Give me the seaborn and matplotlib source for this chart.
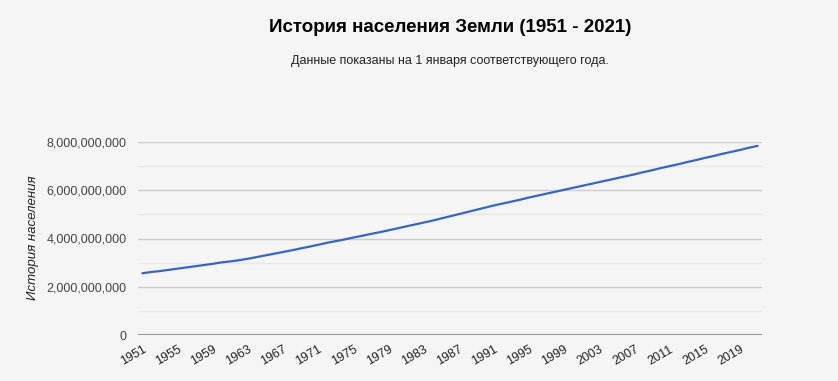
import numpy as np
import pandas as pd
import matplotlib
matplotlib.use("Agg")
import matplotlib.pyplot as plt
import matplotlib.ticker as mticker
import seaborn as sns

# Years shown on the chart
years = list(range(1951, 2022))

# World population on 1 January, billions
population_bn = [
    2.56, 2.61, 2.65, 2.70, 2.75, 2.80, 2.85, 2.90, 2.95, 3.01,
    3.05, 3.10, 3.16, 3.23, 3.30, 3.37, 3.44, 3.51, 3.59, 3.66,
    3.74, 3.82, 3.89, 3.96, 4.04, 4.11, 4.19, 4.26, 4.34, 4.42,
    4.50, 4.58, 4.66, 4.74, 4.83, 4.92, 5.01, 5.10, 5.19, 5.28,
    5.37, 5.45, 5.53, 5.61, 5.70, 5.78, 5.86, 5.94, 6.02, 6.10,
    6.18, 6.26, 6.34, 6.42, 6.50, 6.58, 6.66, 6.75, 6.83, 6.92,
    7.00, 7.08, 7.17, 7.25, 7.34, 7.42, 7.51, 7.59, 7.67, 7.76,
    7.84,
]

x_ticks = list(range(1951, 2022, 4))
y_major = [0, 2e9, 4e9, 6e9, 8e9]
y_minor = [1e9, 3e9, 5e9, 7e9]

title = "История населения Земли (1951 - 2021)"
subtitle = "Данные показаны на 1 января соответствующего года."
y_label = "История населения"

df = pd.DataFrame({"year": years, "population": np.array(population_bn) * 1e9})

sns.set_style("white")
plt.rcParams["font.family"] = ["Liberation Sans", "DejaVu Sans"]

bg = "#f5f5f5"
fig = plt.figure(figsize=(8.38, 3.81), dpi=100, facecolor=bg)
ax = fig.add_axes([138 / 838, 1 - 335 / 381, (762 - 138) / 838, (335 - 142) / 381])
ax.set_facecolor(bg)

sns.lineplot(data=df, x="year", y="population", ax=ax, color="#3366cc", linewidth=1.6)

ax.set_xlim(1950.5, 2021.5)
ax.set_ylim(0, 8e9)

ax.set_yticks(y_major)
ax.set_yticks(y_minor, minor=True)
ax.yaxis.set_major_formatter(mticker.FuncFormatter(lambda v, p: f"{int(v):,}"))
ax.grid(axis="y", which="major", color="#cccccc", linewidth=1)
ax.grid(axis="y", which="minor", color="#e8e8e8", linewidth=1)
ax.axhline(0, color="#999999", linewidth=1.5, zorder=3)

ax.set_xticks(x_ticks)
ax.set_xticklabels([str(t) for t in x_ticks], rotation=30, ha="right",
                   rotation_mode="anchor", fontsize=9, color="#222222")
ax.tick_params(axis="y", which="both", length=0, pad=8, labelsize=9, labelcolor="#444444")
ax.tick_params(axis="x", length=0, pad=6)

for s in ax.spines.values():
    s.set_visible(False)

ax.set_xlabel("")
ax.set_ylabel("")
fig.text(33 / 838, 1 - 238 / 381, y_label, rotation=90, style="italic",
         fontsize=9.5, color="#222222", ha="center", va="center")

fig.text(450 / 838, 1 - 28 / 381, title, fontsize=13.5, fontweight="bold",
         color="#000000", ha="center", va="center")
fig.text(450 / 838, 1 - 61 / 381, subtitle, fontsize=9,
         color="#222222", ha="center", va="center")

fig.savefig("out.png", dpi=100, facecolor=bg)
